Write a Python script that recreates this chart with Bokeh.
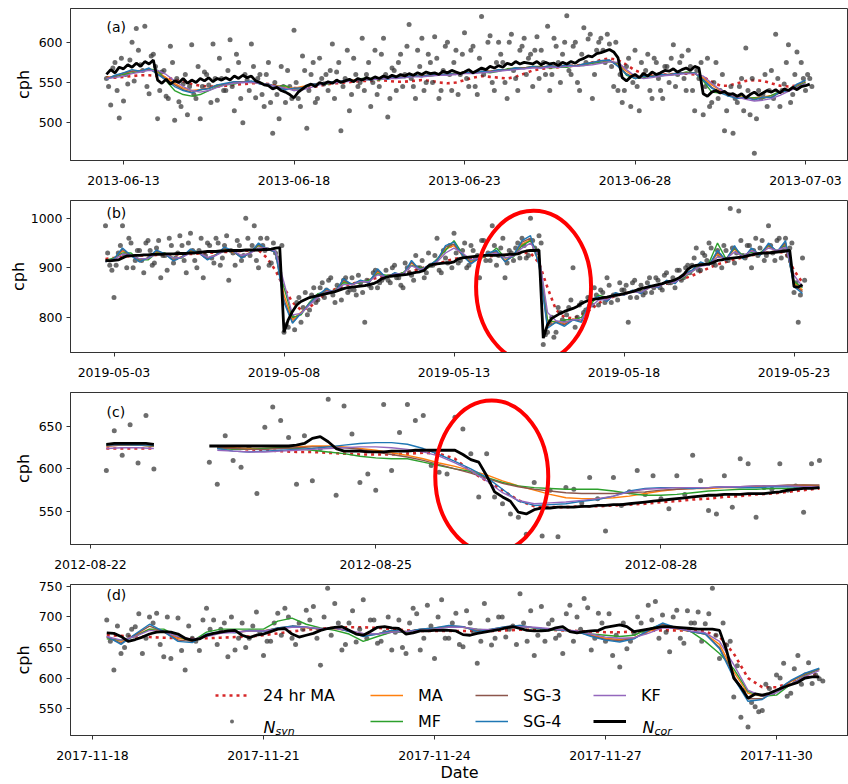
import numpy as np
import pandas as pd
from bokeh.plotting import figure
from bokeh.models import (Range1d, FixedTicker, DatetimeTickFormatter, Label, Legend, LegendItem)
from bokeh.layouts import column
from bokeh.embed import file_html
from bokeh.resources import INLINE

FONT = "DejaVu Sans"
C_MA, C_MF, C_SG3, C_SG4, C_KF, C_RED = "#ff7f0e", "#2ca02c", "#8c564b", "#1f77b4", "#9467bd", "#d62728"
N = None

# ---------------- panel (a): 2013 ----------------
a_ticks = ["2013-06-13", "2013-06-18", "2013-06-23", "2013-06-28", "2013-07-03"]
a_yticks = [500, 550, 600]
a_start_fine, a_start_fine2, a_start_smooth = "2013-06-12 12:00", "2013-06-12 13:30", "2013-06-12 12:00"
a_ncor = [560, 566, 562, 569,
          567, 572, 569, 574, 570, 576, 573, 578,
          553, 549, 554, 548, 552, 550, 555, 549,
          553, 550, 555, 552, 556, 551, 555, 553,
          556, 553, 558, 555, 559, 556, 558, 552,
          550, 547, 546, 542, 544, 540, 538, 535,
          531, 538, 542, 546, 548, 545, 550, 548,
          551, 549, 553, 550, 552, 554, 551, 555,
          553, 556, 554, 557, 555, 558, 556, 559,
          557, 560, 558, 561, 559, 562, 560, 563,
          561, 562, 560, 564, 562, 565, 563, 561,
          563, 566, 562, 565, 568, 566, 570, 568,
          571, 569, 574, 572, 576, 573, 575, 574,
          573, 576, 572, 575, 573, 574, 571, 575,
          573, 576, 574, 578, 580, 583, 582, 586,
          587, 589, 591, 588, 581, 556, 552, 557,
          560, 556, 561, 558, 563, 560, 562, 565,
          564, 567, 563, 566, 568, 565, 570, 568,
          536, 533, 538, 540, 537, 539, 535, 536,
          533, 536, 531, 535, 538, 534, 537, 540,
          538, 541, 537, 542, 540, 544, 541, 545,
          546, 548]
a_nsyn = [555, 522, 575, 506,
          527, 548, 600, 617, 572, 620, 536, 585,
          505, 563, 533, 595, 503, 526, 548, 510,
          597, 530, 505, 563, 547, 598, 528, 555,
          540, 603, 515, 575, 500, 553, 598, 531,
          560, 520, 575, 487, 535, 570, 525, 545,
          615, 530, 583, 493, 560, 525, 580, 548,
          540, 598, 563, 490, 555, 515, 580, 545,
          605, 560, 520, 590, 545, 605, 507, 568,
          540, 585, 560, 622, 545, 590, 605, 550,
          575, 607, 530, 565, 600, 540, 590, 560,
          612, 545, 595, 535, 632, 565, 608, 540,
          600, 575, 530, 610, 555, 590, 605, 580,
          545, 607, 590, 560, 540, 605, 575, 585,
          633, 560, 600, 540, 618, 604, 530, 590,
          605, 575, 598, 545, 540, 525, 570, 520,
          590, 515, 560, 585, 530, 575, 540, 570,
          550, 597, 560, 583, 540, 570, 515, 555,
          510, 580, 525, 575, 540, 490, 535, 487,
          525, 555, 593, 510, 462, 540, 535, 520,
          565, 610, 520, 548, 597, 535, 588, 575,
          540, 555]
a_nsyn2 = [545, 568, 540, 580,
           560, 578, 552, 590, 565, 545, 583, 570,
           540, 565, 530, 575, 555, 520, 560, 545,
           535, 570, 545, 560, 525, 555, 580, 540,
           565, 545, 585, 530, 560, 540, 570, 555,
           535, 560, 525, 550, 505, 545, 565, 530,
           550, 520, 565, 540, 575, 530, 555, 560,
           565, 530, 575, 545, 590, 535, 560, 550,
           540, 575, 550, 535, 585, 560, 530, 565,
           575, 545, 595, 555, 530, 570, 540, 585,
           550, 580, 540, 595, 560, 575, 535, 585,
           555, 590, 545, 580, 560, 600, 550, 575,
           585, 550, 600, 565, 540, 595, 560, 585,
           590, 555, 575, 620, 560, 595, 550, 600,
           565, 595, 550, 585, 575, 610, 560, 600,
           590, 610, 570, 600, 560, 540, 580, 550,
           545, 575, 565, 540, 580, 555, 530, 570,
           580, 545, 575, 555, 590, 540, 565, 575,
           545, 520, 550, 530, 560, 515, 545, 530,
           545, 515, 540, 555, 505, 530, 560, 540,
           530, 555, 540, 575, 525, 560, 545, 555,
           560, 545]
a_ma24 = [556, 556,
          557, 558, 559, 559, 558, 556, 554, 551, 548, 546, 545, 545,
          546, 547, 548, 549, 549, 548, 546, 544, 543, 543, 544, 546,
          548, 549, 550, 551, 552, 552, 553, 552, 551, 551, 552, 553,
          552, 550, 549, 550, 553, 556, 558, 557, 556, 555, 557, 561,
          565, 567, 568, 569, 570, 571, 572, 575, 578, 580, 578, 572,
          565, 561, 560, 560, 560, 561, 561, 560, 557, 551, 546, 546,
          549, 552, 553, 552, 549, 546, 545, 546, 549]
a_ma = [556, 558,
        561, 564, 565, 566, 563, 556, 549, 543, 540, 541, 543, 546,
        548, 550, 551, 550, 549, 547, 546, 544, 543, 545, 547, 549,
        550, 551, 552, 553, 553, 554, 555, 555, 556, 557, 558, 558,
        559, 560, 560, 561, 562, 562, 563, 564, 565, 566, 567, 568,
        569, 569, 570, 570, 571, 571, 572, 574, 575, 577, 573, 564,
        557, 557, 558, 559, 560, 561, 562, 561, 556, 547, 540, 536,
        533, 531, 531, 532, 534, 537, 541, 546, 550]
a_mf = [555, 557,
        560, 562, 564, 567, 565, 552, 540, 535, 533, 535, 540, 545,
        547, 548, 551, 551, 550, 547, 545, 546, 540, 542, 547, 548,
        548, 551, 552, 552, 555, 555, 553, 556, 556, 556, 558, 558,
        558, 560, 560, 562, 562, 563, 563, 562, 564, 567, 568, 568,
        570, 570, 568, 569, 569, 571, 571, 574, 575, 576, 574, 559,
        555, 556, 558, 558, 560, 560, 563, 562, 552, 538, 537, 536,
        533, 530, 531, 530, 534, 539, 541, 545, 550]
a_sg3 = [555, 558,
         562, 564, 565, 567, 561, 554, 547, 541, 538, 541, 543, 547,
         548, 551, 551, 551, 549, 548, 545, 542, 542, 544, 548, 549,
         551, 551, 553, 553, 554, 554, 556, 555, 557, 557, 559, 558,
         560, 560, 561, 561, 563, 562, 564, 564, 566, 566, 568, 568,
         570, 569, 571, 570, 572, 571, 573, 575, 577, 578, 571, 561,
         555, 558, 558, 560, 560, 562, 562, 562, 554, 544, 538, 534,
         531, 531, 529, 531, 532, 537, 540, 547, 552]
a_sg4 = [554, 559,
         562, 566, 564, 568, 560, 553, 545, 540, 537, 541, 542, 547,
         549, 551, 550, 552, 548, 548, 544, 541, 543, 543, 548, 548,
         551, 550, 553, 552, 554, 553, 556, 554, 557, 556, 559, 557,
         560, 559, 561, 560, 563, 561, 564, 563, 566, 565, 568, 567,
         570, 568, 571, 569, 572, 570, 573, 575, 577, 578, 570, 560,
         555, 558, 557, 560, 559, 562, 561, 562, 553, 543, 537, 533,
         530, 532, 528, 532, 531, 538, 540, 548, 553]
a_kf = [555, 556,
        558, 561, 563, 565, 565, 560, 552, 545, 540, 538, 540, 544,
        547, 549, 550, 550, 549, 547, 545, 543, 540, 541, 544, 547,
        549, 550, 551, 552, 553, 554, 554, 555, 555, 556, 557, 557,
        558, 559, 559, 560, 561, 561, 562, 563, 564, 565, 566, 567,
        568, 568, 569, 569, 570, 570, 571, 572, 574, 576, 575, 566,
        558, 555, 556, 558, 559, 560, 561, 561, 558, 549, 541, 536,
        532, 529, 527, 528, 530, 534, 539, 544, 549]

# ---------------- panel (b): 2019 ----------------
b_ticks = ["2019-05-03", "2019-05-08", "2019-05-13", "2019-05-18", "2019-05-23"]
b_yticks = [800, 900, 1000]
b_start_fine, b_start_fine2, b_start_smooth = "2019-05-02 18:00", "2019-05-02 19:30", "2019-05-02 18:00"
b_ncor = [915, 914,
          915, 916, 920, 924, 924, 925, 925, 926,
          926, 927, 927, 927, 928, 928, 928, 929,
          929, 929, 930, 930, 931, 932, 933, 933,
          933, 934, 934, 935, 935, 935, 935, 936,
          936, 936, 936, 937, 937, 938, 940, 941,
          770, 795, 812, 825, 832, 836, 840, 842,
          844, 846, 848, 850, 852, 855, 858, 860,
          861, 862, 863, 864, 866, 868, 872, 878,
          881, 883, 884, 885, 886, 887, 889, 891,
          892, 895, 904, 907, 908, 909, 910, 910,
          912, 918, 920, 921, 922, 923, 924, 925,
          925, 925, 925, 926, 926, 927, 927, 928,
          932, 934, 935, 935, 936, 758, 785, 798,
          803, 808, 812, 815, 818, 822, 828, 832,
          835, 837, 838, 840, 841, 843, 845, 846,
          848, 850, 852, 855, 858, 860, 862, 864,
          866, 868, 871, 873, 876, 880, 886, 897,
          903, 905, 906, 907, 908, 911, 915, 916,
          918, 919, 920, 921, 922, 924, 926, 928,
          929, 930, 930, 931, 932, 933, 934, 935,
          862, 861, 866]
b_nsyn = [985, 905,
          840, 930, 985, 900, 950, 915, 935, 890,
          955, 905, 940, 880, 925, 960, 910, 930,
          945, 890, 970, 915, 935, 880, 950, 920,
          960, 905, 945, 875, 930, 955, 915, 1000,
          925, 985, 900, 945, 960, 910, 930, 890,
          770, 780, 800, 830, 790, 850, 815, 860,
          835, 870, 855, 880, 830, 860, 875, 850,
          880, 845, 870, 790, 865, 890, 860, 875,
          895, 870, 905, 880, 860, 900, 885, 925,
          900, 880, 930, 905, 960, 890, 920, 945,
          970, 910, 935, 900, 945, 920, 880, 955,
          930, 985, 905, 940, 880, 935, 915, 950,
          960, 920, 1000, 940, 965, 745, 770, 800,
          770, 810, 790, 820, 900, 800, 830, 815,
          840, 860, 825, 850, 880, 830, 845, 870,
          855, 790, 870, 840, 865, 850, 880, 860,
          875, 855, 890, 870, 860, 895, 880, 905,
          905, 940, 895, 925, 950, 910, 935, 900,
          935, 1020, 910, 1015, 925, 945, 900, 960,
          940, 915, 985, 930, 955, 920, 960, 940,
          850, 790, 920]
b_nsyn2 = [930, 895,
           905, 945, 925, 960, 900, 935, 915, 950,
           935, 910, 955, 925, 895, 945, 920, 965,
           915, 950, 935, 900, 960, 925, 945, 910,
           950, 920, 965, 935, 905, 945, 925, 960,
           945, 915, 960, 935, 905, 950, 920, 945,
           785, 810, 775, 840, 820, 805, 845, 830,
           860, 840, 875, 845, 865, 835, 880, 855,
           855, 885, 850, 875, 860, 895, 870, 880,
           875, 900, 880, 865, 910, 890, 875, 900,
           915, 890, 905, 925, 895, 935, 910, 900,
           930, 915, 950, 905, 935, 925, 955, 915,
           915, 945, 925, 960, 910, 930, 940, 920,
           945, 925, 955, 930, 950, 765, 790, 760,
           820, 795, 805, 835, 780, 825, 810, 840,
           825, 845, 855, 830, 865, 845, 835, 855,
           865, 840, 875, 855, 845, 870, 850, 880,
           860, 885, 870, 880, 895, 875, 900, 890,
           920, 895, 930, 915, 940, 905, 925, 945,
           915, 940, 930, 955, 920, 945, 935, 925,
           955, 925, 945, 915, 960, 935, 925, 950,
           870, 845, 875]
b_ma24 = [918,
          920, 922, 924, 925, 925, 926, 926, 927, 927, 928, 929, 930,
          931, 932, 933, 934, 935, 936, 920, 895, 860, 830, 815, 820,
          835, 848, 857, 863, 868, 872, 876, 880, 883, 886, 889, 893,
          898, 903, 908, 913, 918, 921, 920, 921, 923, 925, 926, 928,
          930, 930, 910, 860, 815, 800, 798, 805, 815, 828, 838, 843,
          848, 852, 856, 860, 864, 868, 873, 878, 884, 892, 900, 907,
          912, 917, 921, 925, 929, 931, 933, 930, 895, 870]
b_ma = [913,
        918, 934, 925, 915, 920, 932, 927, 917, 923, 934, 929, 919,
        927, 938, 932, 922, 931, 945, 937, 933, 845, 795, 810, 828,
        845, 855, 852, 872, 866, 873, 871, 892, 881, 888, 887, 910,
        896, 904, 914, 938, 945, 925, 912, 920, 928, 932, 915, 924,
        948, 957, 912, 790, 792, 788, 797, 795, 830, 840, 835, 848,
        846, 853, 850, 862, 862, 872, 870, 885, 895, 908, 906, 928,
        917, 938, 920, 936, 927, 944, 933, 948, 870, 855]
b_mf = [915,
        920, 930, 930, 916, 916, 930, 930, 920, 920, 935, 932, 918,
        926, 936, 936, 922, 930, 945, 940, 935, 860, 800, 805, 830,
        848, 852, 855, 870, 868, 870, 875, 888, 885, 885, 890, 905,
        900, 900, 918, 935, 955, 928, 915, 918, 925, 940, 920, 922,
        945, 955, 925, 795, 790, 795, 795, 800, 825, 845, 840, 845,
        848, 852, 852, 860, 865, 870, 872, 880, 892, 905, 910, 950,
        918, 940, 925, 932, 930, 945, 935, 945, 872, 860]
b_sg3 = [912,
         918, 937, 925, 913, 920, 934, 928, 915, 922, 936, 930, 917,
         926, 940, 933, 921, 930, 947, 938, 932, 835, 790, 808, 828,
         845, 856, 851, 875, 866, 874, 870, 895, 880, 889, 886, 912,
         895, 904, 915, 942, 948, 925, 910, 920, 929, 933, 913, 925,
         952, 960, 908, 782, 790, 785, 796, 792, 833, 841, 833, 849,
         845, 854, 849, 863, 861, 873, 869, 886, 895, 910, 905, 932,
         916, 942, 919, 938, 926, 947, 932, 951, 865, 852]
b_sg4 = [912,
         918, 940, 925, 912, 920, 936, 928, 914, 922, 938, 930, 916,
         926, 942, 934, 920, 930, 950, 938, 932, 830, 788, 808, 828,
         845, 858, 850, 878, 866, 875, 870, 898, 880, 890, 885, 915,
         895, 905, 915, 945, 952, 925, 908, 920, 930, 935, 912, 925,
         955, 965, 905, 778, 790, 782, 795, 790, 835, 842, 832, 850,
         845, 855, 848, 865, 860, 875, 868, 888, 895, 912, 905, 935,
         915, 945, 918, 940, 925, 950, 932, 955, 862, 848]
b_kf = [914,
        916, 928, 926, 918, 919, 928, 928, 920, 921, 930, 930, 921,
        925, 934, 934, 925, 929, 940, 940, 934, 870, 805, 808, 825,
        840, 852, 854, 866, 866, 872, 872, 886, 882, 887, 888, 904,
        897, 902, 912, 930, 940, 930, 916, 920, 926, 930, 920, 924,
        940, 950, 925, 810, 793, 790, 795, 796, 820, 835, 836, 845,
        846, 851, 851, 860, 862, 870, 871, 882, 893, 903, 906, 922,
        918, 932, 924, 934, 928, 940, 935, 942, 885, 862]

# ---------------- panel (c): 2012 ----------------
c_ticks = ["2012-08-22", "2012-08-25", "2012-08-28"]
c_yticks = [550, 600, 650]
c_start_fine, c_start_smooth = "2012-08-22 04:00", "2012-08-22 04:00"
c_ncor = [629, 630, 630, 630, 630, 630, 629,
          N, N, N, N, N, N,
          627, 627, 627, 627, 627, 627, 627, 627, 627, 627, 627, 628,
          630, 636, 638, 632, 624, 621, 621, 621, 620, 620, 620, 621,
          621, 621, 622, 622, 622, 622, 622, 622, 617, 611, 608, 592,
          573, 567, 562, 549, 547, 552, 554, 554, 555, 555, 555, 556,
          556, 557, 557, 558, 558, 559, 560, 561, 562, 563, 564, 565,
          566, 567, 568, 569, 569, 570, 570, 570, 571, 571, 571, 572,
          573, 575, 576, 577, 577, 578]
c_nsyn = [598, 645, 616, 652, 607, 663, 600,
          N, N, N, N, N, N,
          608, 582, 639, 610, 602, 625, 571, 649, 673, 657, 637, 582,
          639, 586, 624, 682, 569, 674, 641, 584, 594, 575, 676, 598,
          643, 676, 657, 663, 604, 596, 594, 661, 647, 618, 567, 618,
          567, 559, 547, 543, 523, 584, 521, 575, 520, 578, 576, 560,
          590, 565, 527, 590, 557, 573, 598, 570, 592, 565, 553, 592,
          570, 616, 586, 551, 547, 592, 555, 612, 606, 543, 578, 576,
          606, 575, 580, 549, 606, 610]
c_ma24 = [624, 624, 624, 624, N, N, N,
          625, 624, 623, 622, 621, 620, 620, 619, 618, 617,
          617, 617, 618, 619, 618, 612, 597, 586, 575, 563,
          556, 555, 555, 556, 556, 557, 558, 559, 561, 562,
          564, 565, 567, 568, 570, 571, 573, 575, 577]
c_ma = [627, 628, 628, 627, N, N, N,
        626, 625, 624, 624, 625, 626, 627, 627, 626, 624,
        622, 619, 616, 612, 607, 603, 598, 593, 586, 580,
        575, 570, 566, 565, 565, 566, 568, 571, 574, 576,
        577, 577, 578, 578, 579, 580, 580, 581, 580]
c_mf = [629, 628, 628, 627, N, N, N,
        624, 623, 623, 624, 625, 624, 622, 620, 618, 615,
        613, 612, 612, 608, 604, 600, 597, 590, 584, 580,
        578, 577, 576, 576, 576, 574, 571, 569, 569, 570,
        572, 574, 575, 576, 576, 577, 577, 578, 578]
c_sg3 = [627, 628, 628, 627, N, N, N,
         625, 624, 623, 623, 624, 625, 626, 626, 625, 623,
         620, 617, 614, 610, 605, 600, 595, 589, 583, 579,
         576, 574, 572, 571, 571, 571, 572, 573, 575, 576,
         577, 578, 579, 579, 580, 580, 581, 581, 581]
c_sg4 = [628, 629, 628, 628, N, N, N,
         624, 621, 620, 621, 622, 623, 624, 626, 628, 630,
         631, 631, 629, 624, 617, 609, 600, 590, 576, 562,
         557, 558, 559, 562, 564, 568, 574, 577, 578, 578,
         577, 578, 579, 578, 578, 579, 579, 579, 578]
c_kf = [624, 625, 625, 624, N, N, N,
        622, 621, 620, 620, 621, 622, 623, 624, 625, 626,
        626, 625, 623, 620, 615, 607, 598, 586, 572, 563,
        559, 560, 561, 563, 565, 568, 573, 576, 577, 578,
        578, 578, 579, 579, 580, 580, 580, 579, 579]

# ---------------- panel (d): 2017 ----------------
d_ticks = ["2017-11-18", "2017-11-21", "2017-11-24", "2017-11-27", "2017-11-30"]
d_yticks = [550, 600, 650, 700, 750]
d_start_fine, d_start_fine2, d_start_smooth = "2017-11-18 06:00", "2017-11-18 07:30", "2017-11-18 06:00"
d_ncor = [674, 673, 668, 660, 663, 667,
          672, 675, 676, 675, 672, 665, 662, 664,
          670, 673, 675, 677, 678, 670, 666, 670,
          672, 676, 680, 681, 672, 667, 670, 673,
          678, 681, 683, 684, 678, 672, 670, 676,
          683, 684, 682, 681, 672, 674, 677, 677,
          678, 678, 678, 677, 671, 670, 673, 675,
          677, 679, 682, 684, 681, 678, 677, 677,
          678, 682, 684, 676, 674, 676, 677, 678,
          683, 685, 687, 684, 676, 678, 680, 682,
          684, 684, 683, 682, 681, 680, 680, 680,
          678, 645, 600, 585, 567, 574, 572, 575,
          580, 585, 589, 593, 600, 602, 602]
d_nsyn = [695, 613, 640, 670, 684, 640, 700, 706, 635, 632, 698, 613,
          665, 645, 714, 695, 680, 635, 646, 690, 665, 708, 637, 660,
          706, 714, 665, 690, 711, 717, 621, 747, 722, 646, 690, 659,
          728, 695, 657, 675, 646, 695, 640, 714, 646, 719, 632, 728,
          665, 706, 651, 690, 624, 722, 654, 700, 667, 685, 738, 660,
          637, 717, 689, 665, 640, 719, 700, 730, 646, 706, 660, 637,
          618, 648, 673, 690, 719, 725, 703, 643, 711, 657, 690, 708,
          689, 747, 632, 654, 569, 536, 520, 553, 547, 583, 605, 624,
          575, 637, 605, 591, 599]
d_nsyn2 = [660, 685, 650, 680, 705, 665,
           690, 655, 700, 670, 645, 685, 660, 695,
           680, 655, 690, 700, 665, 650, 685, 675,
           660, 690, 670, 700, 655, 680, 695, 665,
           700, 670, 690, 655, 710, 680, 665, 695,
           660, 700, 675, 650, 690, 705, 665, 685,
           700, 665, 690, 655, 710, 675, 660, 695,
           665, 700, 680, 655, 690, 710, 670, 660,
           695, 670, 705, 660, 680, 715, 665, 690,
           705, 670, 690, 660, 700, 675, 695, 665,
           675, 700, 665, 710, 690, 660, 705, 670,
           690, 660, 620, 580, 560, 545, 590, 575,
           600, 570, 615, 590, 625, 605, 595]
d_ma24 = [670, 669, 668,
          667, 666, 665, 665, 665, 666, 667, 668, 670, 673, 676, 679,
          681, 682, 683, 683, 682, 680, 678, 677, 677, 677, 677, 677,
          677, 678, 679, 679, 679, 678, 677, 676, 675, 675, 676, 677,
          678, 678, 678, 676, 668, 640, 600, 585, 585, 592, 600, 608]
d_ma = [666, 660, 670,
        680, 675, 665, 662, 670, 675, 675, 677, 677, 681, 684, 682,
        680, 681, 677, 671, 672, 677, 676, 679, 681, 684, 683, 678,
        679, 683, 685, 682, 680, 678, 676, 670, 665, 663, 666, 676,
        684, 680, 676, 672, 655, 610, 575, 570, 580, 594, 606, 614]
d_mf = [664, 662, 668,
        680, 680, 668, 660, 675, 680, 680, 680, 680, 693, 698, 688,
        682, 678, 672, 660, 668, 675, 675, 678, 680, 683, 683, 680,
        678, 682, 684, 682, 678, 680, 676, 672, 670, 668, 670, 680,
        688, 682, 676, 660, 640, 615, 578, 570, 572, 590, 604, 615]
d_sg3 = [667, 657, 671,
         685, 676, 662, 660, 671, 676, 675, 678, 677, 682, 685, 683,
         680, 682, 677, 669, 672, 678, 676, 680, 682, 685, 684, 677,
         680, 684, 686, 682, 680, 678, 676, 669, 663, 661, 665, 677,
         688, 681, 676, 672, 650, 604, 566, 566, 580, 595, 607, 615]
d_sg4 = [668, 655, 672,
         688, 676, 660, 658, 672, 676, 674, 678, 676, 682, 685, 683,
         680, 682, 676, 668, 672, 678, 676, 680, 682, 686, 684, 676,
         680, 684, 686, 682, 680, 678, 676, 668, 662, 659, 664, 678,
         690, 682, 676, 672, 648, 600, 562, 565, 580, 596, 608, 616]
d_kf = [668, 662, 668,
        678, 676, 668, 663, 668, 673, 675, 677, 677, 680, 683, 683,
        681, 681, 678, 673, 672, 675, 676, 678, 680, 683, 683, 680,
        679, 682, 684, 683, 681, 679, 677, 672, 667, 665, 666, 673,
        682, 681, 677, 674, 660, 622, 580, 570, 576, 590, 603, 612]

# ---------------- layout constants ----------------
FIG_W, BORDER_L = 848, 70
FRAME_W = FIG_W - BORDER_L


def ms(ts):
    return pd.Timestamp(ts).value / 1e6


def x_range_for(anchor, anchor_px, px_per_day):
    start = pd.Timestamp(anchor) - pd.Timedelta(days=anchor_px / px_per_day)
    end = start + pd.Timedelta(days=FRAME_W / px_per_day)
    return ms(start), ms(end)


def arr(v):
    return np.array(v, dtype=float)


def make_panel(letter, height, btop, bbot, frame_h, xr, yr, xticks, yticks,
               start_fine, freq_fine, start_smooth, freq_smooth,
               ma24, nsyn_sets, ma, mf, sg3, sg4, kf, ncor,
               label_dy, ylabel_standoff, ellipse=None, xlabel=None):
    p = figure(width=FIG_W, height=height, x_axis_type="datetime", output_backend="svg",
               toolbar_location=None, title=None,
               x_range=Range1d(*xr), y_range=Range1d(*yr),
               min_border_left=BORDER_L, min_border_right=0,
               min_border_top=btop, min_border_bottom=bbot)
    p.outline_line_color = "#333333"
    p.xgrid.visible = False
    p.ygrid.visible = False

    tf = pd.date_range(start_fine, periods=len(ncor), freq=freq_fine)
    sx, sy = [], []
    for st, vals in nsyn_sets:
        sx.append(pd.date_range(st, periods=len(vals), freq=freq_fine))
        sy.append(arr(vals))
    sx = np.concatenate([s.values for s in sx])
    sy = np.concatenate(sy)

    rs = {}
    rs["24 hr MA"] = p.line(pd.date_range(start_smooth, periods=len(ma24), freq=freq_smooth), arr(ma24),
                            line_color=C_RED, line_width=2.6, line_dash="3 4")
    rs["N_syn"] = p.scatter(sx, sy, size=5, fill_color="#3c3c3c", line_color=None, fill_alpha=0.75)
    for name, vals, col in [("MA", ma, C_MA), ("MF", mf, C_MF), ("SG-3", sg3, C_SG3),
                            ("SG-4", sg4, C_SG4), ("KF", kf, C_KF)]:
        rs[name] = p.line(pd.date_range(start_smooth, periods=len(vals), freq=freq_smooth), arr(vals),
                          line_color=col, line_width=1.4)
    rs["N_cor"] = p.line(tf, arr(ncor), line_color="black", line_width=2.8)

    if ellipse is not None:
        ex, ey, ew, eh = ellipse
        p.ellipse(x=[ms(ex)], y=[ey], width=ew, height=eh, width_units="screen", height_units="screen",
                  fill_color=None, line_color="#ff0000", line_width=4)

    p.xaxis.ticker = FixedTicker(ticks=[ms(t) for t in xticks])
    fmt = "%Y-%m-%d"
    p.xaxis.formatter = DatetimeTickFormatter(microseconds=fmt, milliseconds=fmt, seconds=fmt, minsec=fmt,
                                              minutes=fmt, hourmin=fmt, hours=fmt, days=fmt,
                                              months=fmt, years=fmt)
    p.yaxis.ticker = FixedTicker(ticks=yticks)
    for ax in (p.xaxis, p.yaxis):
        ax.major_label_text_font = FONT
        ax.major_label_text_font_size = "12.5px"
        ax.major_label_text_color = "black"
        ax.major_tick_out = 4
        ax.major_tick_in = 0
        ax.minor_tick_out = 0
        ax.minor_tick_in = 0
        ax.axis_line_color = "#333333"
        ax.major_tick_line_color = "#333333"
    p.xaxis.major_label_standoff = 11
    p.yaxis.major_label_standoff = 4
    p.yaxis.axis_label = "cph"
    p.yaxis.axis_label_text_font = FONT
    p.yaxis.axis_label_text_font_size = "16px"
    p.yaxis.axis_label_text_font_style = "normal"
    p.yaxis.axis_label_text_color = "black"
    p.yaxis.axis_label_standoff = ylabel_standoff
    if xlabel:
        p.xaxis.axis_label = xlabel
        p.xaxis.axis_label_text_font = FONT
        p.xaxis.axis_label_text_font_size = "16px"
        p.xaxis.axis_label_text_font_style = "normal"
        p.xaxis.axis_label_text_color = "black"
        p.xaxis.axis_label_standoff = 0

    lx = xr[0] + (xr[1] - xr[0]) * 36 / FRAME_W
    ly = yr[1] - (yr[1] - yr[0]) * label_dy / frame_h
    p.add_layout(Label(x=lx, y=ly, text="(%s)" % letter, text_font=FONT, text_font_size="14px",
                       text_baseline="middle", text_align="left", text_color="black"))
    return p, rs


xr_a = x_range_for(a_ticks[0], 53, 34.1)
xr_b = x_range_for(b_ticks[0], 43.5, 34.0)
xr_c = x_range_for(c_ticks[0], 20, 95.08)
xr_d = x_range_for(d_ticks[0], 22, 57.0)

pa, _ = make_panel("a", 200, 8, 40, 152, xr_a, (453, 642), a_ticks, a_yticks,
                   a_start_fine, "3h", a_start_smooth, "6h",
                   a_ma24, [(a_start_fine, a_nsyn), (a_start_fine2, a_nsyn2)],
                   a_ma, a_mf, a_sg3, a_sg4, a_kf, a_ncor, 18, 3)
pb, _ = make_panel("b", 192, 0, 40, 152, xr_b, (729, 1036), b_ticks, b_yticks,
                   b_start_fine, "3h", b_start_smooth, "6h",
                   b_ma24, [(b_start_fine, b_nsyn), (b_start_fine2, b_nsyn2)],
                   b_ma, b_mf, b_sg3, b_sg4, b_kf, b_ncor, 12, 0,
                   ellipse=("2019-05-15 08:10", 862, 115, 152))
pc, _ = make_panel("c", 184, 0, 32, 152, xr_c, (511, 690), c_ticks, c_yticks,
                   c_start_fine, "2h", c_start_smooth, "4h",
                   c_ma24, [(c_start_fine, c_nsyn)],
                   c_ma, c_mf, c_sg3, c_sg4, c_kf, c_ncor, 19, 3,
                   ellipse=("2012-08-26 05:17", 591, 113, 152))
FH_D = 153
pd_, rs_d = make_panel("d", 208, 8, 47, FH_D, xr_d, (506, 753), d_ticks, d_yticks,
                       d_start_fine, "3h", d_start_smooth, "6h",
                       d_ma24, [(d_start_fine, d_nsyn), (d_start_fine2, d_nsyn2)],
                       d_ma, d_mf, d_sg3, d_sg4, d_kf, d_ncor, 11, 3, xlabel="Date")

# legend (4 columns x 2 rows) in panel (d)
cols = [(145, 10, [("24 hr MA", rs_d["24 hr MA"]), (" ", rs_d["N_syn"])]),
        (300, 20, [("MA", rs_d["MA"]), ("MF", rs_d["MF"])]),
        (405, 20, [("SG-3", rs_d["SG-3"]), ("SG-4", rs_d["SG-4"])]),
        (523, 20, [("KF", rs_d["KF"]), (" ", rs_d["N_cor"])])]
for x0, gh, items in cols:
    leg = Legend(items=[LegendItem(label=lab, renderers=[r]) for lab, r in items],
                 location=(x0, 4), orientation="vertical", glyph_width=33, glyph_height=gh,
                 label_height=20, label_width=20, label_standoff=15, spacing=6, padding=0, margin=0,
                 border_line_color=None, background_fill_alpha=0,
                 label_text_font=FONT, label_text_font_size="16px", label_text_color="black")
    pd_.add_layout(leg)


def frame_pt(px, py):
    x = xr_d[0] + (xr_d[1] - xr_d[0]) * px / FRAME_W
    y = 506 + (753 - 506) * py / FH_D
    return x, y


for base_px, sub in [(193, "syn"), (572, "cor")]:
    x, y = frame_pt(base_px, 8)
    pd_.add_layout(Label(x=x, y=y, text="N", text_font=FONT, text_font_style="italic",
                         text_font_size="16px", text_baseline="alphabetic", text_color="black"))
    x2, y2 = frame_pt(base_px + 12, 4)
    pd_.add_layout(Label(x=x2, y=y2, text=sub, text_font=FONT, text_font_style="italic",
                         text_font_size="11px", text_baseline="alphabetic", text_color="black"))

layout = column(pa, pb, pc, pd_, spacing=0)
open("out.html", "w").write(file_html(layout, INLINE))
